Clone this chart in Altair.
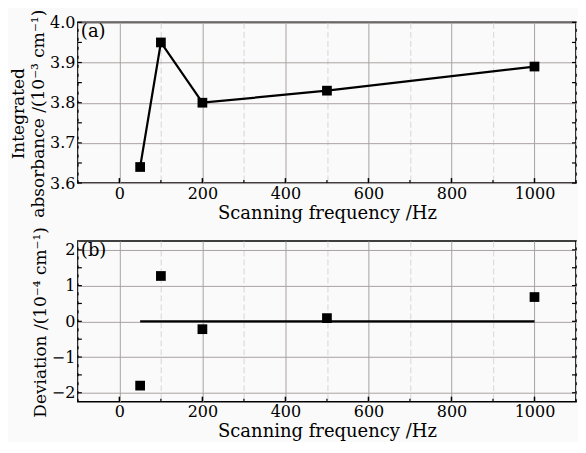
import altair as alt
import pandas as pd

freq = [50, 100, 200, 500, 1000]
absorbance = [3.64, 3.95, 3.80, 3.83, 3.89]
deviation = [-1.80, 1.27, -0.22, 0.09, 0.68]
fit_x = [50, 1000]
fit_y = [0, 0]

x_ticks = list(range(-100, 1101, 100))
y_ticks_a = [round(3.6 + 0.05 * i, 2) for i in range(9)]
y_ticks_b = [-2, -1.5, -1, -0.5, 0, 0.5, 1, 1.5, 2]

FONT = "DejaVu Serif"
W = 499
H_A, H_B = 161, 161

df_a = pd.DataFrame({"f": freq, "v": absorbance})
df_b = pd.DataFrame({"f": freq, "v": deviation})
df_fit = pd.DataFrame({"f": fit_x, "v": fit_y})


def grid_cond(test):
    return {"condition": {"test": test, "value": "#aaa2a2"}, "value": "#d6d6d6"}


def dash_cond(test):
    return {"condition": {"test": test, "value": []}, "value": [6, 3]}


x_major = "datum.value % 200 == 0"


def make_x_axis():
    return alt.Axis(
        values=x_ticks,
        labelExpr="datum.value % 200 == 0 ? format(datum.value, 'd') : ''",
        title="Scanning frequency /Hz",
        titleFontSize=18,
        grid=True,
        gridColor=grid_cond(x_major),
        gridDash=dash_cond(x_major),
        gridWidth=1,
        ticks=False,
        domain=False,
        labelPadding=2,
        titlePadding=3,
        labelFlush=False,
        labelOverlap=False,
    )


xs = alt.Scale(domain=[-100, 1100], nice=False, zero=False)


def panel(df, H, yticks, ydomain, ymajor_test, ylabel_expr, ytitle, title_y, tag, line_df, connect):
    x_axis = make_x_axis()
    y_axis = alt.Axis(
        values=yticks,
        labelExpr=ylabel_expr,
        title=ytitle,
        titleFontSize=17,
        titleLineHeight=20,
        titleY=title_y,
        grid=True,
        gridColor=grid_cond(ymajor_test),
        gridDash=dash_cond(ymajor_test),
        gridWidth=1,
        ticks=False,
        domain=False,
        labelPadding=3,
        titlePadding=2,
        labelOverlap=False,
    )
    ys = alt.Scale(domain=ydomain, nice=False, zero=False)
    base = alt.Chart(df).encode(
        x=alt.X("f:Q", scale=xs, axis=x_axis),
        y=alt.Y("v:Q", scale=ys, axis=y_axis),
    )
    layers = []
    if connect:
        layers.append(base.mark_line(color="black", strokeWidth=2.2))
    else:
        layers.append(
            alt.Chart(line_df).mark_line(color="black", strokeWidth=2.2).encode(
                x=alt.X("f:Q", scale=xs, axis=x_axis),
                y=alt.Y("v:Q", scale=ys, axis=y_axis),
            )
        )
    # inward tick marks
    xt = pd.DataFrame({"t": x_ticks, "major": [t % 200 == 0 for t in x_ticks]})
    layers.append(
        alt.Chart(xt).transform_filter("datum.major").mark_rule(color="black", strokeWidth=1.5).encode(
            x=alt.X("t:Q", scale=xs), y=alt.value(H), y2=alt.value(H - 5)
        )
    )
    layers.append(
        alt.Chart(xt).transform_filter("!datum.major").mark_rule(color="black", strokeWidth=1.2).encode(
            x=alt.X("t:Q", scale=xs), y=alt.value(H), y2=alt.value(H - 3)
        )
    )
    yt = pd.DataFrame({"t": yticks})
    layers.append(
        alt.Chart(yt).mark_rule(color="black", strokeWidth=1.2).encode(
            y=alt.Y("t:Q", scale=ys), x=alt.value(0), x2=alt.value(4)
        )
    )
    layers.append(
        alt.Chart(yt).mark_rule(color="black", strokeWidth=1.2).encode(
            y=alt.Y("t:Q", scale=ys), x=alt.value(W), x2=alt.value(W - 4)
        )
    )
    layers.append(base.mark_square(size=95, color="black", opacity=1))
    layers.append(
        alt.Chart(pd.DataFrame({"t": [tag]})).mark_text(
            font=FONT, fontSize=18, align="left", baseline="top", color="black"
        ).encode(x=alt.value(3), y=alt.value(1), text="t:N")
    )
    return alt.layer(*layers).properties(width=W, height=H)


top = panel(
    df_a,
    H_A,
    y_ticks_a,
    [3.6, 4.0],
    "abs(datum.value*10 - round(datum.value*10)) < 0.001",
    "abs(datum.value*10 - round(datum.value*10)) < 0.001 ? format(datum.value, '.1f') : ''",
    ["Integrated", "absorbance /(10⁻³ cm⁻¹)"],
    91,
    "(a)",
    None,
    True,
)
bottom = panel(
    df_b,
    H_B,
    y_ticks_b,
    [-2.25, 2.25],
    "datum.value % 1 == 0",
    "datum.value % 1 == 0 ? format(datum.value, 'd') : ''",
    "Deviation /(10⁻⁴ cm⁻¹)",
    81,
    "(b)",
    df_fit,
    False,
)

chart = (
    alt.vconcat(top, bottom, spacing=2)
    .properties(padding=0, background="#fafafa")
    .configure_view(stroke="black", strokeWidth=1.6)
    .configure_axis(
        labelFont=FONT,
        titleFont=FONT,
        labelFontSize=16,
        labelColor="black",
        titleColor="black",
        titleFontWeight="normal",
    )
)

chart.save("out.html", embed_options={"renderer": "svg", "actions": False})
